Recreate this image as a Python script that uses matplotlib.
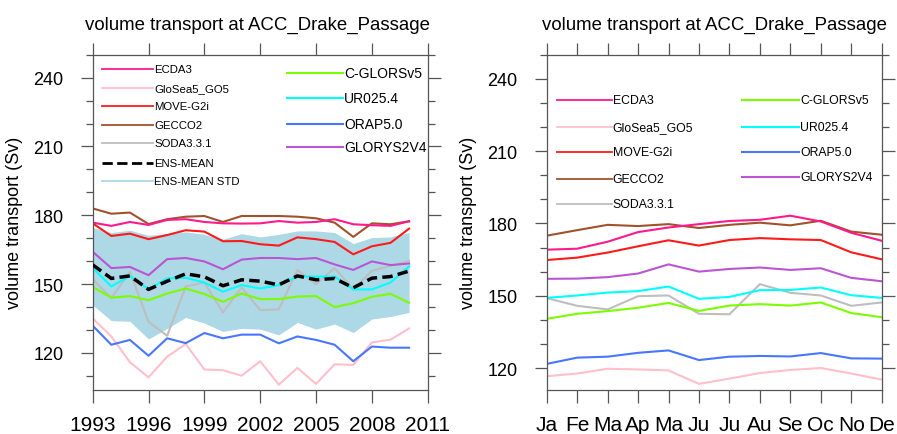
import numpy as np
import matplotlib
matplotlib.use("Agg")
import matplotlib.pyplot as plt
from matplotlib.lines import Line2D

plt.rcParams['font.family'] = ['Liberation Sans', 'DejaVu Sans']

# ---------------- data: annual series (1993-2010) ----------------
years = list(range(1993, 2011))
ecda3_y   = [176.8, 175.4, 177.1, 175.8, 178.0, 178.3, 177.1, 176.5, 176.4, 176.5, 177.5, 176.8, 177.1, 178.3, 176.1, 175.7, 175.4, 177.4]
glosea_y  = [135.1, 127.2, 116.0, 109.4, 118.4, 123.9, 112.8, 112.5, 110.1, 116.4, 106.2, 113.5, 106.5, 115.1, 114.8, 124.6, 125.8, 130.7]
move_y    = [176.5, 171.0, 172.0, 169.6, 171.4, 173.5, 172.9, 168.7, 168.8, 167.4, 166.8, 170.4, 169.6, 168.4, 163.0, 166.5, 168.0, 174.2]
gecco_y   = [183.0, 180.7, 181.2, 176.2, 178.3, 179.4, 179.7, 177.1, 179.7, 179.7, 179.7, 179.4, 178.7, 176.8, 170.6, 176.5, 176.1, 177.4]
soda_y    = [152.2, 143.9, 155.4, 133.6, 127.5, 149.0, 150.7, 137.7, 148.6, 138.7, 139.0, 156.2, 150.0, 157.0, 147.8, 155.8, 158.0, 160.1]
ensmean_y = [158.4, 152.5, 153.6, 147.7, 151.3, 154.5, 153.2, 149.3, 151.9, 151.3, 149.7, 153.6, 151.9, 152.5, 148.4, 152.6, 153.3, 155.7]
band_hi_y = [174.6, 172.5, 173.5, 171.3, 172.0, 172.8, 171.7, 169.6, 172.0, 170.6, 171.7, 173.2, 173.2, 172.5, 167.7, 170.3, 170.6, 172.5]
band_lo_y = [140.9, 134.1, 133.8, 126.1, 130.7, 135.5, 133.0, 129.4, 130.7, 130.4, 127.9, 133.3, 130.4, 132.6, 128.9, 134.8, 135.9, 137.7]
cglors_y  = [148.8, 144.1, 144.8, 143.0, 145.9, 148.1, 145.7, 142.3, 145.9, 143.5, 143.5, 144.6, 144.8, 140.0, 141.7, 144.5, 145.8, 141.9]
ur025_y   = [157.0, 149.0, 153.6, 147.8, 152.5, 152.8, 150.7, 146.7, 149.6, 148.1, 149.6, 153.3, 153.3, 153.3, 147.7, 147.7, 150.7, 157.7]
orap_y    = [131.9, 123.6, 125.7, 118.8, 126.4, 124.3, 128.7, 126.4, 128.0, 128.0, 124.2, 127.2, 125.7, 123.6, 116.4, 122.8, 122.3, 122.3]
glorys_y  = [164.1, 157.0, 157.5, 153.9, 160.9, 161.4, 159.9, 156.5, 160.7, 161.4, 161.4, 160.9, 161.4, 158.6, 156.2, 159.9, 158.3, 159.0]

# ---------------- data: monthly climatology ----------------
months = list(range(1, 13))
month_labels = ["Ja", "Fe", "Ma", "Ap", "Ma", "Ju", "Ju", "Au", "Se", "Oc", "No", "De"]
ecda3_m  = [169.1, 169.5, 172.4, 176.4, 178.3, 179.7, 181.0, 181.5, 183.2, 180.8, 176.1, 172.8]
glosea_m = [116.6, 117.7, 119.7, 119.4, 119.0, 113.4, 115.6, 117.9, 119.2, 120.0, 117.7, 115.2]
move_m   = [164.8, 165.8, 167.9, 170.5, 173.0, 170.8, 173.1, 173.9, 173.4, 173.1, 168.0, 165.1]
gecco_m  = [174.9, 177.2, 179.4, 178.9, 179.7, 178.1, 179.4, 180.3, 179.2, 181.1, 176.6, 175.3]
soda_m   = [149.0, 145.8, 144.3, 149.8, 150.1, 142.5, 142.3, 154.8, 151.2, 150.1, 145.8, 147.2]
cglors_m = [140.4, 142.5, 143.6, 145.0, 147.0, 143.7, 145.9, 146.5, 145.9, 147.2, 142.8, 141.1]
ur025_m  = [149.1, 150.1, 151.3, 151.9, 153.8, 148.7, 149.5, 152.3, 152.4, 153.4, 150.2, 149.1]
orap_m   = [121.7, 124.3, 124.7, 126.3, 127.3, 123.3, 124.7, 125.0, 124.8, 126.2, 124.0, 123.9]
glorys_m = [157.0, 157.1, 157.7, 159.2, 163.0, 160.0, 161.1, 161.7, 160.7, 161.4, 157.4, 156.0]

title = "volume transport at ACC_Drake_Passage"
ylabel = "volume transport (Sv)"
year_ticks = [1993, 1996, 1999, 2002, 2005, 2008, 2011]
y_ticks = [120, 150, 180, 210, 240]

# ---------------- styles ----------------
C = {
    "ECDA3": "#ff1a8c", "GloSea5_GO5": "#ffc0cb", "MOVE-G2i": "#ff1a1a",
    "GECCO2": "#a0522d", "SODA3.3.1": "#bebebe", "C-GLORSv5": "#7cfc00",
    "UR025.4": "#00ffff", "ORAP5.0": "#4876ff", "GLORYS2V4": "#ba55d3",
    "ENS-MEAN": "black", "ENS-MEAN STD": "#add8e6",
}
LW = 1.5
axcol = "#555555"

fig = plt.figure(figsize=(8.97, 4.35), dpi=100)
axL = fig.add_axes([92.7 / 897, 1 - 390.7 / 435, 335 / 897, 335 / 435])
axR = fig.add_axes([546.7 / 897, 1 - 390.7 / 435, 335 / 897, 335 / 435])


def style_axes(ax, title_x):
    for s in ax.spines.values():
        s.set_color(axcol)
        s.set_linewidth(0.9)
    ax.tick_params(which="both", direction="out", color=axcol, width=0.9,
                   top=True, right=True, labeltop=False, labelright=False)
    ax.tick_params(which="major", length=9)
    ax.tick_params(which="minor", length=5)
    ax.tick_params(axis="y", labelsize=13, pad=12)
    ax.tick_params(axis="x", labelsize=15, pad=9)
    ax.set_ylabel(ylabel, fontsize=13)
    ax.yaxis.set_label_coords(-0.207, 0.502)
    ax.set_title(title, fontsize=13.4, x=title_x, y=1.077, pad=0)
    ax.set_yticks(y_ticks)


# ---------- left panel ----------
axL.fill_between(years, band_lo_y, band_hi_y, color=C["ENS-MEAN STD"], lw=0, zorder=1)
order_y = [("GloSea5_GO5", glosea_y), ("ORAP5.0", orap_y), ("SODA3.3.1", soda_y),
           ("C-GLORSv5", cglors_y), ("UR025.4", ur025_y), ("GLORYS2V4", glorys_y),
           ("MOVE-G2i", move_y), ("GECCO2", gecco_y), ("ECDA3", ecda3_y)]
for name, vals in order_y:
    axL.plot(years, vals, color=C[name], lw=LW, zorder=2)
axL.plot(years, ensmean_y, color="black", lw=2.5, ls=(0, (3, 1.5)), zorder=3)
axL.set_xlim(1993, 2011)
axL.set_ylim(104, 250)
axL.set_xticks(year_ticks)
axL.set_yticks(np.arange(110, 251, 10), minor=True)
style_axes(axL, 0.492)

legL1 = [("ECDA3", "-"), ("GloSea5_GO5", "-"), ("MOVE-G2i", "-"), ("GECCO2", "-"),
         ("SODA3.3.1", "-"), ("ENS-MEAN", "--"), ("ENS-MEAN STD", "-")]
yL1 = [0.957, 0.901, 0.847, 0.790, 0.735, 0.678, 0.623]
for (name, ls), yy in zip(legL1, yL1):
    lw = 2.0 if name == "ENS-MEAN" else 1.3
    axL.add_line(Line2D([0.028, 0.18], [yy, yy], transform=axL.transAxes,
                        color=C[name], lw=lw, ls=ls))
    axL.text(0.183, yy, name, transform=axL.transAxes, fontsize=8.2, va="center", ha="left")
legL2 = ["C-GLORSv5", "UR025.4", "ORAP5.0", "GLORYS2V4"]
yL2 = [0.945, 0.870, 0.794, 0.724]
for name, yy in zip(legL2, yL2):
    axL.add_line(Line2D([0.58, 0.747], [yy, yy], transform=axL.transAxes,
                        color=C[name], lw=1.5))
    axL.text(0.75, yy, name, transform=axL.transAxes, fontsize=10, va="center", ha="left")

# ---------- right panel ----------
order_m = [("GloSea5_GO5", glosea_m), ("ORAP5.0", orap_m), ("SODA3.3.1", soda_m),
           ("C-GLORSv5", cglors_m), ("UR025.4", ur025_m), ("GLORYS2V4", glorys_m),
           ("MOVE-G2i", move_m), ("GECCO2", gecco_m), ("ECDA3", ecda3_m)]
for name, vals in order_m:
    axR.plot(months, vals, color=C[name], lw=LW, zorder=2)
axR.set_xlim(1, 12)
axR.set_ylim(111, 250)
axR.set_xticks(months)
axR.set_xticklabels(month_labels)
axR.set_yticks(np.arange(120, 251, 10), minor=True)
style_axes(axR, 0.5)

legR1 = ["ECDA3", "GloSea5_GO5", "MOVE-G2i", "GECCO2", "SODA3.3.1"]
yR1 = [0.864, 0.785, 0.709, 0.629, 0.553]
for name, yy in zip(legR1, yR1):
    axR.add_line(Line2D([0.03, 0.194], [yy, yy], transform=axR.transAxes,
                        color=C[name], lw=1.3))
    axR.text(0.197, yy, name, transform=axR.transAxes, fontsize=8.8, va="center", ha="left")
legR2 = ["C-GLORSv5", "UR025.4", "ORAP5.0", "GLORYS2V4"]
yR2 = [0.864, 0.785, 0.709, 0.634]
for name, yy in zip(legR2, yR2):
    axR.add_line(Line2D([0.582, 0.754], [yy, yy], transform=axR.transAxes,
                        color=C[name], lw=1.5))
    axR.text(0.757, yy, name, transform=axR.transAxes, fontsize=8.8, va="center", ha="left")

fig.savefig("out.png", dpi=100)
